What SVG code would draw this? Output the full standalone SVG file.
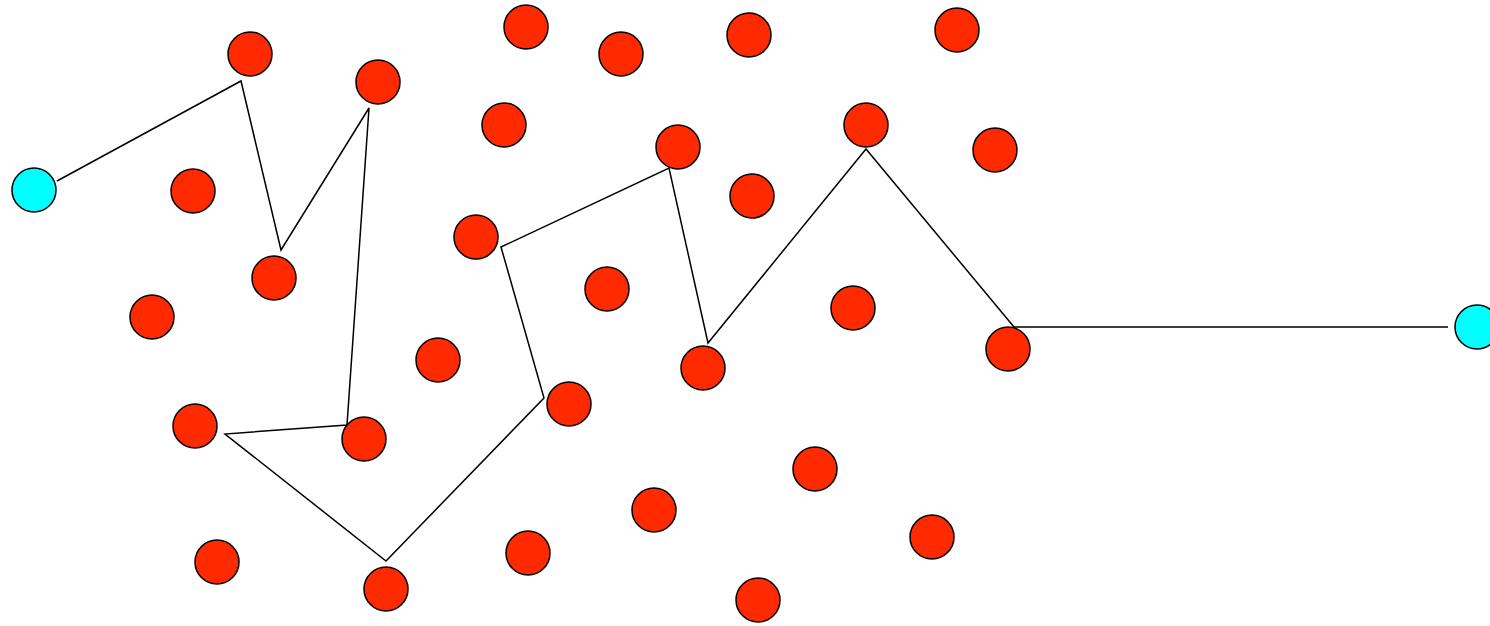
<svg xmlns="http://www.w3.org/2000/svg" width="1490" height="626" viewBox="0 0 1490 626">
<style>
.n{fill:#ff2a00;stroke:#000;stroke-width:1.5}
.t{fill:#00ffff;stroke:#000;stroke-width:1.5}
.e{stroke:#000;stroke-width:1.5;fill:none}
</style>
<rect width="1490" height="626" fill="#fff"/>
<g id="connectors">
<polyline class="e" points="57,181 241,81 281,250 369,108 347,425 225,434 386,561 544,398 501,247 669,168 708,343 866,149 1014,327 1448,327"/>
</g>
<g id="start"><circle class="t" cx="34" cy="190" r="22"/></g>
<g id="end"><circle class="t" cx="1477" cy="327" r="22"/></g>
<g id="n1"><circle class="n" cx="250" cy="54" r="22"/></g>
<g id="n2"><circle class="n" cx="378" cy="82" r="22"/></g>
<g id="n3"><circle class="n" cx="526" cy="27" r="22"/></g>
<g id="n4"><circle class="n" cx="621" cy="54" r="22"/></g>
<g id="n5"><circle class="n" cx="749" cy="35" r="22"/></g>
<g id="n6"><circle class="n" cx="957" cy="30" r="22"/></g>
<g id="n7"><circle class="n" cx="504" cy="125" r="22"/></g>
<g id="n8"><circle class="n" cx="678" cy="147" r="22"/></g>
<g id="n9"><circle class="n" cx="866" cy="125" r="22"/></g>
<g id="n10"><circle class="n" cx="995" cy="150" r="22"/></g>
<g id="n11"><circle class="n" cx="193" cy="191" r="22"/></g>
<g id="n12"><circle class="n" cx="752" cy="196" r="22"/></g>
<g id="n13"><circle class="n" cx="476" cy="237" r="22"/></g>
<g id="n14"><circle class="n" cx="274" cy="278" r="22"/></g>
<g id="n15"><circle class="n" cx="607" cy="289" r="22"/></g>
<g id="n16"><circle class="n" cx="152" cy="317" r="22"/></g>
<g id="n17"><circle class="n" cx="853" cy="308" r="22"/></g>
<g id="n18"><circle class="n" cx="438" cy="360" r="22"/></g>
<g id="n19"><circle class="n" cx="1008" cy="349" r="22"/></g>
<g id="n20"><circle class="n" cx="703" cy="368" r="22"/></g>
<g id="n21"><circle class="n" cx="569" cy="404" r="22"/></g>
<g id="n22"><circle class="n" cx="195" cy="426" r="22"/></g>
<g id="n23"><circle class="n" cx="364" cy="439" r="22"/></g>
<g id="n24"><circle class="n" cx="815" cy="469" r="22"/></g>
<g id="n25"><circle class="n" cx="654" cy="510" r="22"/></g>
<g id="n26"><circle class="n" cx="932" cy="537" r="22"/></g>
<g id="n27"><circle class="n" cx="217" cy="562" r="22"/></g>
<g id="n28"><circle class="n" cx="528" cy="553" r="22"/></g>
<g id="n29"><circle class="n" cx="386" cy="589" r="22"/></g>
<g id="n30"><circle class="n" cx="758" cy="600" r="22"/></g>
</svg>
